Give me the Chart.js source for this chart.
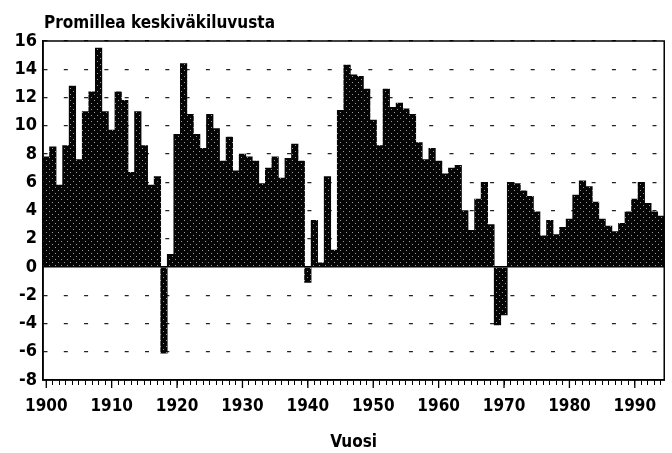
<!DOCTYPE html>
<html>
<head>
<meta charset="utf-8">
<script src="https://cdn.jsdelivr.net/npm/chart.js@4/dist/chart.umd.min.js"></script>
<style>
  html, body { margin: 0; padding: 0; background: #fff; }
  #wrap { width: 672px; height: 453px; }
</style>
</head>
<body>
<div id="wrap"><canvas id="promChart" width="672" height="453"></canvas></div>
<script>
// Vuodet 1900-1994
const years = [
  '1900','1901','1902','1903','1904','1905','1906','1907','1908','1909',
  '1910','1911','1912','1913','1914','1915','1916','1917','1918','1919',
  '1920','1921','1922','1923','1924','1925','1926','1927','1928','1929',
  '1930','1931','1932','1933','1934','1935','1936','1937','1938','1939',
  '1940','1941','1942','1943','1944','1945','1946','1947','1948','1949',
  '1950','1951','1952','1953','1954','1955','1956','1957','1958','1959',
  '1960','1961','1962','1963','1964','1965','1966','1967','1968','1969',
  '1970','1971','1972','1973','1974','1975','1976','1977','1978','1979',
  '1980','1981','1982','1983','1984','1985','1986','1987','1988','1989',
  '1990','1991','1992','1993','1994'
];

// Promillea keskiväkiluvusta
const promille = [
  7.8, 8.5, 5.8, 8.6, 12.8, 7.6, 11.0, 12.4, 15.5, 11.0,
  9.7, 12.4, 11.8, 6.7, 11.0, 8.6, 5.8, 6.4, -6.1, 0.9,
  9.4, 14.4, 10.8, 9.4, 8.4, 10.8, 9.8, 7.5, 9.2, 6.8,
  8.0, 7.8, 7.5, 5.9, 7.0, 7.8, 6.3, 7.7, 8.7, 7.5,
  -1.1, 3.3, 0.3, 6.4, 1.2, 11.1, 14.3, 13.6, 13.5, 12.6,
  10.4, 8.6, 12.6, 11.3, 11.6, 11.2, 10.8, 8.8, 7.6, 8.4,
  7.5, 6.6, 7.0, 7.2, 4.0, 2.6, 4.8, 6.0, 3.0, -4.1,
  -3.4, 6.0, 5.9, 5.4, 5.0, 3.9, 2.2, 3.3, 2.3, 2.8,
  3.4, 5.1, 6.1, 5.7, 4.6, 3.4, 2.9, 2.5, 3.1, 3.9,
  4.8, 6.0, 4.5, 3.9, 3.6
];

const decadeLabels = ['1900','1910','1920','1930','1940','1950','1960','1970','1980','1990'];
const yTickValues = [-8, -6, -4, -2, 0, 2, 4, 6, 8, 10, 12, 14, 16];

const FONT = "'Liberation Sans Narrow', 'DejaVu Sans Condensed', 'Roboto Condensed', sans-serif";

// rasteroitu musta täyttö
function makeDots() {
  const c = document.createElement('canvas');
  c.width = 6; c.height = 6;
  const g = c.getContext('2d');
  g.fillStyle = '#050505';
  g.fillRect(0, 0, 6, 6);
  g.fillStyle = 'rgba(255,255,255,0.6)';
  g.fillRect(1, 1, 1, 1);
  g.fillRect(4, 4, 1, 1);
  return g.createPattern(c, 'repeat');
}

const framePlugin = {
  id: 'frame',
  afterDraw(chart) {
    const { ctx, chartArea: a } = chart;
    const xs = chart.scales.x;
    ctx.save();
    ctx.strokeStyle = '#000';
    ctx.lineWidth = 1.5;
    ctx.strokeRect(a.left, a.top, a.right - a.left, a.bottom - a.top);
    // pidemmät vuosikymmenmerkit
    ctx.lineWidth = 1.3;
    decadeLabels.forEach(lbl => {
      const x = xs.getPixelForValue(years.indexOf(lbl));
      ctx.beginPath();
      ctx.moveTo(x, a.bottom);
      ctx.lineTo(x, a.bottom + 8);
      ctx.stroke();
    });
    ctx.fillStyle = '#000';
    ctx.font = 'bold 17px ' + FONT;
    ctx.textAlign = 'left';
    ctx.textBaseline = 'alphabetic';
    ctx.fillText('Promillea keskiväkiluvusta', a.left + 1, 28);
    ctx.restore();
  }
};

const ctx = document.getElementById('promChart').getContext('2d');
new Chart(ctx, {
  type: 'bar',
  data: {
    labels: years,
    datasets: [{
      label: 'Promillea keskiväkiluvusta',
      data: promille,
      backgroundColor: makeDots(),
      borderWidth: 0,
      barPercentage: 1.0,
      categoryPercentage: 1.0
    }]
  },
  options: {
    responsive: false,
    animation: false,
    devicePixelRatio: 1,
    layout: { padding: { left: 0, right: 7, top: 41, bottom: 0 } },
    plugins: {
      legend: { display: false },
      tooltip: { enabled: false }
    },
    scales: {
      x: {
        offset: true,
        afterFit: s => { s.height = 73; },
        grid: {
          display: true,
          drawOnChartArea: false,
          offset: false,
          tickLength: 5,
          color: '#000',
          lineWidth: 1
        },
        border: { display: true, color: '#000', width: 1.5 },
        ticks: {
          autoSkip: false,
          maxRotation: 0,
          minRotation: 0,
          padding: 11,
          color: '#000',
          font: { family: FONT, size: 17, weight: 'bold' },
          callback: (v, i) => decadeLabels.includes(years[i]) ? years[i] : ''
        },
        title: {
          display: true,
          text: 'Vuosi',
          color: '#000',
          font: { family: FONT, size: 17, weight: 'bold' },
          padding: { top: 0, bottom: 0 }
        }
      },
      y: {
        min: yTickValues[0],
        max: yTickValues[yTickValues.length - 1],
        afterFit: s => { s.width = 43; },
        afterBuildTicks: s => { s.ticks = yTickValues.map(v => ({ value: v })); },
        grid: {
          drawTicks: false,
          color: c => c.tick && c.tick.value === 0 ? '#000' : '#222',
          lineWidth: c => c.tick && c.tick.value === 0 ? 1.5 : 1.2
        },
        border: {
          display: true,
          color: '#000',
          width: 1.5,
          dash: c => (c.tick && c.tick.value === 0) ? [] : [4, 16.3],
          dashOffset: 0
        },
        ticks: {
          padding: 6,
          color: '#000',
          font: { family: FONT, size: 18, weight: 'bold' }
        }
      }
    }
  },
  plugins: [framePlugin]
});
</script>
</body>
</html>
